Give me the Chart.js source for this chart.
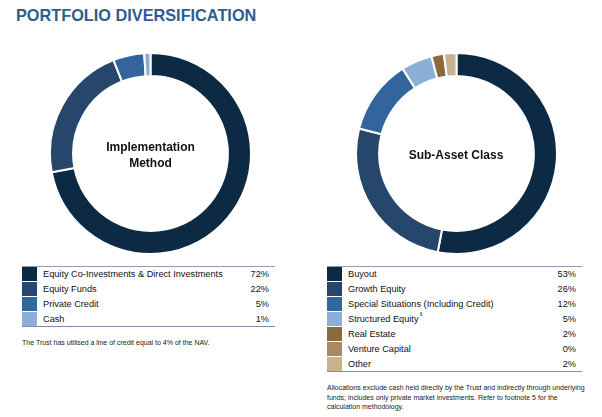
<!DOCTYPE html>
<html><head><meta charset="utf-8">
<script src="https://cdn.jsdelivr.net/npm/chart.js@4.4.0/dist/chart.umd.min.js"></script>
<style>
html,body{margin:0;padding:0;background:#fff;width:602px;height:417px;overflow:hidden;font-family:"Liberation Sans",Arial,sans-serif;}
#title{position:absolute;left:16px;top:6px;font-size:16.3px;font-weight:bold;color:#2d5d92;}
.cv{position:absolute;}
.center{position:absolute;font-weight:bold;color:#111;font-size:12px;text-align:center;line-height:16px;}
table.lg{position:absolute;border-collapse:collapse;font-size:9.2px;color:#111;border-top:1px solid #8f9fb3;border-bottom:1.5px solid #7d8ea5;}
table.lg td{padding:0;height:14px;line-height:14px;border-bottom:1px solid transparent;}
table.lg td.sw{width:15px;border-bottom:1px solid #fff;}
table.lg tr:last-child td{border-bottom:none;}
table.lg td.nm{padding-left:6px;}
table.lg td.pc{text-align:right;padding-right:6px;}
.note{position:absolute;font-size:7px;color:#222;line-height:9.6px;}
</style></head>
<body>
<div id="title">PORTFOLIO DIVERSIFICATION</div>
<canvas id="c1" class="cv" style="left:49px;top:52px;width:203px;height:203px" width="203" height="203"></canvas>
<canvas id="c2" class="cv" style="left:355px;top:52px;width:203px;height:203px" width="203" height="203"></canvas>
<div class="center" style="left:100px;top:139px;width:101px;">Implementation<br>Method</div>
<div class="center" style="left:396px;top:147px;width:120px;">Sub-Asset Class</div>
<table class="lg" id="t1" style="left:22px;top:266px;width:253px;"></table>
<table class="lg" id="t2" style="left:327px;top:266px;width:255px;"></table>
<div class="note" style="left:22px;top:338px;">The Trust has utilised a line of credit equal to 4% of the NAV.</div>
<div class="note" style="left:327px;top:383px;width:262px;">Allocations exclude cash held directly by the Trust and indirectly through underlying funds; includes only private market investments. Refer to footnote 5 for the calculation methodology.</div>
<script>
const implLabels = ["Equity Co-Investments & Direct Investments","Equity Funds","Private Credit","Cash"];
const implValues = [72,22,5,1];
const implColors = ["#0c2a44","#27466b","#33649c","#8daed6"];

const subLabels = ["Buyout","Growth Equity","Special Situations (Including Credit)","Structured Equity","Real Estate","Venture Capital","Other"];
const subValues = [53,26,12,5,2,0,2];
const subColors = ["#0c2a44","#27466b","#33649c","#8daed6","#8b6b3e","#a88a62","#c9b08f"];

function makeDonut(id, labels, values, colors){
  new Chart(document.getElementById(id), {
    type:'doughnut',
    data:{labels:labels, datasets:[{data:values, backgroundColor:colors, borderColor:'#ffffff', borderWidth:2, hoverOffset:0}]},
    options:{responsive:false, animation:false, cutout:'77%', layout:{padding:0},
      plugins:{legend:{display:false}, tooltip:{enabled:false}}}
  });
}
makeDonut('c1', implLabels, implValues, implColors);
makeDonut('c2', subLabels, subValues, subColors);

function makeTable(id, labels, values, colors){
  const t = document.getElementById(id);
  labels.forEach((l,i)=>{
    const tr = document.createElement('tr');
    const sw = document.createElement('td'); sw.className='sw'; sw.style.background=colors[i];
    const nm = document.createElement('td'); nm.className='nm'; nm.textContent=l;
    if(l==="Structured Equity"){ const s=document.createElement('sup'); s.textContent=' 6'; s.style.fontSize='5px'; s.style.verticalAlign='6px'; s.style.lineHeight='0'; nm.appendChild(s); }
    const pc = document.createElement('td'); pc.className='pc'; pc.textContent=values[i]+'%';
    tr.appendChild(sw); tr.appendChild(nm); tr.appendChild(pc); t.appendChild(tr);
  });
}
makeTable('t1', implLabels, implValues, implColors);
makeTable('t2', subLabels, subValues, subColors);
</script>
</body></html>
